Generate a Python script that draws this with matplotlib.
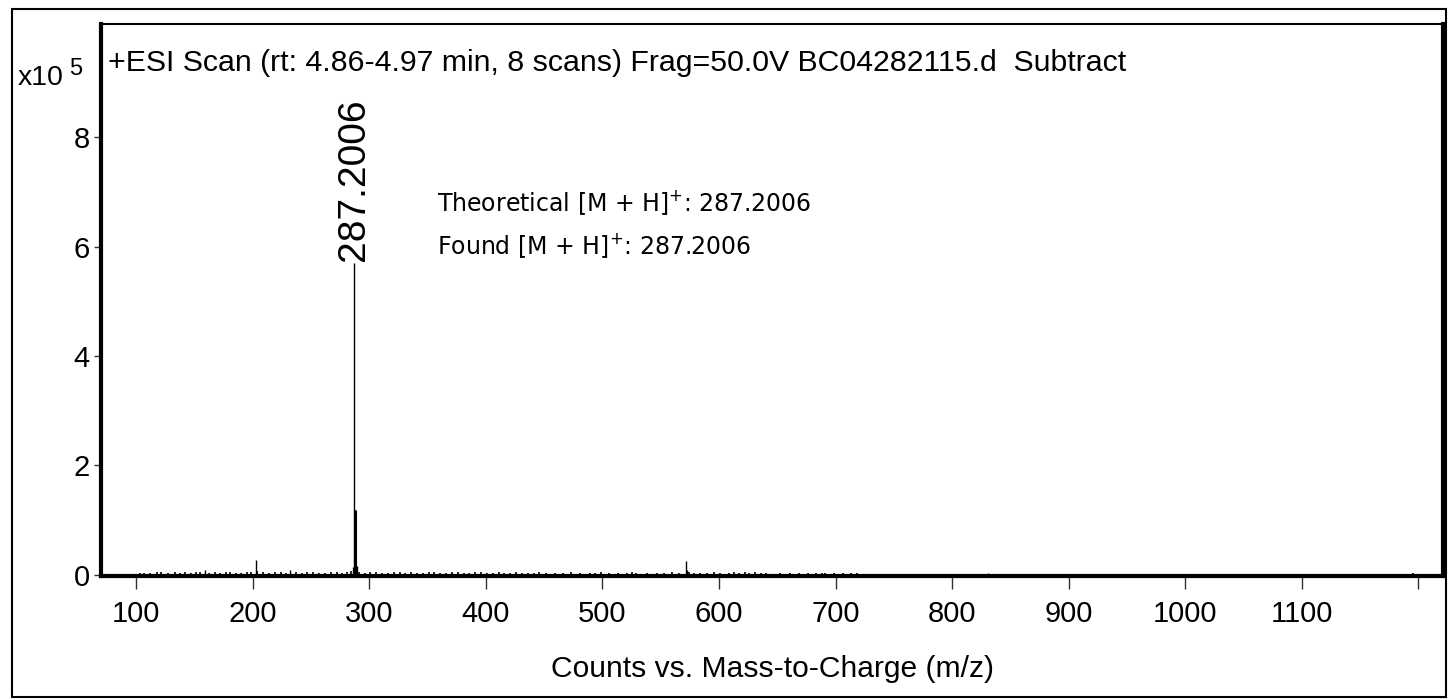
import matplotlib
matplotlib.use("Agg")
import matplotlib.pyplot as plt
from matplotlib.patches import Rectangle

# main ions (m/z, counts)
peak_mz = [159.1, 203.1, 232.1, 286.2, 287.2006, 288.2, 289.2, 571.4, 572.4, 831.0]
peak_counts = [9000, 28000, 9500, 15000, 570000, 118000, 16000, 25000, 9000, 4000]

# baseline noise
noise_mz = [103, 107, 112, 118, 121, 127, 133, 138, 142, 147, 151, 155, 163, 168,
            172, 177, 181, 186, 190, 195, 199, 204.1, 209, 214, 219, 224, 229, 237,
            242, 247, 252, 257, 262, 267, 272, 277, 281, 284, 291, 296, 301, 306,
            311, 316, 321, 326, 331, 336, 341, 346, 351, 356, 361, 366, 371, 376,
            381, 386, 391, 396, 401, 406, 411, 416, 421, 426, 431, 436, 441, 446,
            452, 459, 466, 473, 481, 489, 494, 499, 506, 513, 521, 525, 529, 538,
            547, 553, 560, 566, 574, 579, 584, 590, 596, 601, 609, 613, 617, 622,
            626, 631, 636, 640, 652, 661, 669, 676, 683, 688, 691, 699, 706, 713,
            718, 1195]
noise_counts = [3000, 4000, 3500, 5000, 4500, 3000, 5500, 4000, 5000, 3500, 4500, 6000, 4000, 5000,
                3500, 4500, 5500, 4000, 3500, 5000, 4500, 8000, 6000, 4000, 5000, 4500, 3500, 5000,
                4000, 4500, 5500, 3500, 4000, 5000, 4500, 3500, 5000, 7000, 6000, 4000, 4500, 5000,
                3500, 4000, 5000, 4500, 3000, 5000, 4000, 3500, 4500, 5000, 4000, 3500, 4500, 5000,
                4000, 3000, 4500, 5000, 4000, 3500, 4500, 3000, 4000, 5000, 3500, 3000, 4000, 5000,
                3500, 3000, 4000, 4500, 3000, 3500, 4000, 5000, 3500, 3000, 4000, 5000, 3500, 3000,
                4000, 3500, 4500, 3500, 5000, 4000, 3500, 3000, 4500, 4000, 3500, 5000, 4000, 4500,
                3500, 5000, 4000, 3000, 3500, 4000, 3000, 3500, 4000, 3000, 3500, 4000, 3000, 3500,
                4000, 3000]

scale = 1e5
xticks = [100, 200, 300, 400, 500, 600, 700, 800, 900, 1000, 1100, 1200]
xticklabels = ["100", "200", "300", "400", "500", "600", "700", "800", "900", "1000", "1100", ""]
yticks = [0, 2, 4, 6, 8]

title = "+ESI Scan (rt: 4.86-4.97 min, 8 scans) Frag=50.0V BC04282115.d  Subtract"
note1 = "Theoretical [M + H]$^{+}$: 287.2006"
note2 = "Found [M + H]$^{+}$: 287.2006"

plt.rcParams['font.family'] = ['Liberation Sans', 'DejaVu Sans']

fig = plt.figure(figsize=(14.48, 6.99), dpi=100)
fig.patches.append(Rectangle((0.0083, 0.003), 0.9903, 0.984, transform=fig.transFigure,
                             fill=False, edgecolor='black', linewidth=1.5))

ax = fig.add_axes([0.0698, 0.176, 0.9267, 0.7897])

ax.vlines(noise_mz, 0, [c / scale for c in noise_counts], color='black', linewidth=1.2)
ax.vlines(peak_mz, 0, [c / scale for c in peak_counts], color='black', linewidth=1.0)
ax.vlines([288.2], 0, [118000 / scale], color='black', linewidth=2.2)

ax.set_xlim(70, 1221)
ax.set_ylim(-0.02, 10.07)

ax.set_xticks(xticks)
ax.set_xticklabels(xticklabels, fontsize=21)
ax.set_yticks(yticks)
ax.set_yticklabels([str(v) for v in yticks], fontsize=21)
ax.tick_params(axis='x', direction='out', length=9, width=1, pad=8, color='#333333')
ax.tick_params(axis='y', direction='out', length=5, width=1, pad=3, color='#333333')

for side in ['left', 'bottom', 'right']:
    ax.spines[side].set_linewidth(3)
ax.spines['top'].set_linewidth(1.5)

ax.set_xlabel("Counts vs. Mass-to-Charge (m/z)", fontsize=21.6, labelpad=20)

ax.text(0.005, 0.93, title, transform=ax.transAxes, fontsize=21.8, va='center', ha='left')
fig.text(0.012, 0.888, "x10", fontsize=20.5, va='center', ha='left')
fig.text(0.0475, 0.902, "5", fontsize=17, va='center', ha='left')

# peak label on top of the main ion
ax.text(287.2006, 570000 / scale + 0.04, "287.2006", rotation=90, fontsize=28,
        ha='center', va='bottom')

ax.text(0.25, 0.676, note1, transform=ax.transAxes, fontsize=17,
        family='DejaVu Sans', va='center', ha='left')
ax.text(0.25, 0.598, note2, transform=ax.transAxes, fontsize=17,
        family='DejaVu Sans', va='center', ha='left')

fig.savefig("out.png", dpi=100)
